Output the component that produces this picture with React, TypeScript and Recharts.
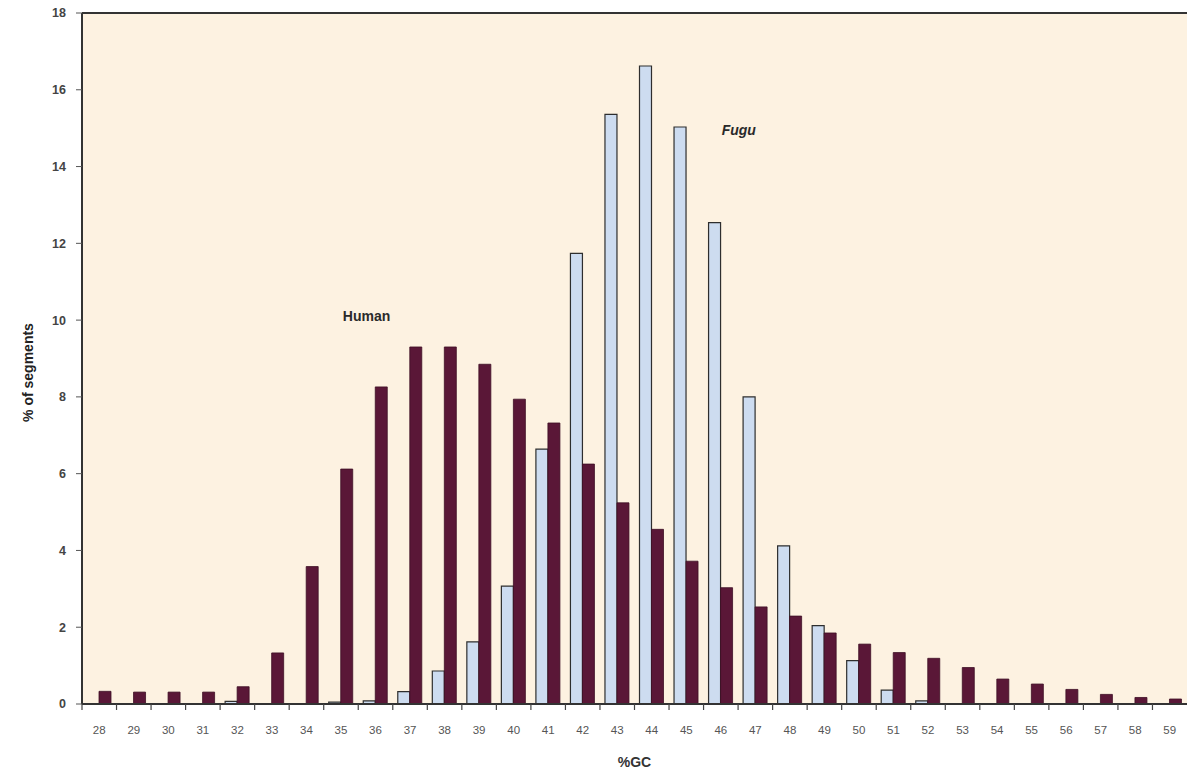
import React from "react"
import { BarChart, Bar, XAxis, YAxis, CartesianGrid, ReferenceLine, ReferenceDot } from "recharts"

// %GC bins
const gcBins = [
  "28", "29", "30", "31", "32", "33", "34", "35", "36", "37", "38", "39", "40", "41", "42", "43",
  "44", "45", "46", "47", "48", "49", "50", "51", "52", "53", "54", "55", "56", "57", "58", "59",
]

// % of segments
const fuguValues = [
  0, 0, 0, 0, 0.07, 0, 0, 0.05, 0.08, 0.32, 0.86, 1.62, 3.07, 6.64, 11.74, 15.36,
  16.62, 15.03, 12.54, 8.0, 4.12, 2.04, 1.13, 0.36, 0.08, 0, 0, 0, 0, 0, 0, 0,
]
const humanValues = [
  0.33, 0.31, 0.31, 0.31, 0.45, 1.33, 3.58, 6.12, 8.26, 9.3, 9.3, 8.85, 7.94, 7.32, 6.25, 5.24,
  4.55, 3.72, 3.03, 2.53, 2.29, 1.85, 1.56, 1.34, 1.19, 0.95, 0.65, 0.52, 0.38, 0.25, 0.17, 0.13,
]

const yTicks = [0, 2, 4, 6, 8, 10, 12, 14, 16, 18]

const data = gcBins.map((gc, i) => ({ gc, fugu: fuguValues[i], human: humanValues[i] }))

const font = "'Liberation Sans', Arial, sans-serif"

// label at band centre, tick mark on the band boundary
const GcTick = (props: any) => {
  const { x, y, payload } = props
  const off = payload.offset || 0
  return (
    <g>
      <line x1={x - off} y1={y - 8} x2={x - off} y2={y - 2} stroke="#444" strokeWidth={1.2} />
      <text x={x} y={y + 22} textAnchor="middle" fontSize={11.5} fill="#555" fontFamily={font}>
        {payload.value}
      </text>
    </g>
  )
}

const seriesLabel = (text: string, italic: boolean, dx: number) => (props: any) => {
  const { viewBox } = props
  const cx = viewBox.x + viewBox.width / 2
  const cy = viewBox.y + viewBox.height / 2
  return (
    <text
      x={cx}
      y={cy}
      dx={dx}
      dy={5}
      textAnchor="middle"
      fontSize={14}
      fontWeight="bold"
      fontStyle={italic ? "italic" : "normal"}
      fill="#2a2a2a"
      fontFamily={font}
    >
      {text}
    </text>
  )
}

export default function App() {
  return (
    <div style={{ position: "absolute", left: 0, top: 0, width: 1188, height: 773, background: "#fff" }}>
      <BarChart
        width={1188}
        height={773}
        data={data}
        margin={{ top: 13, right: 1, left: 0, bottom: 0 }}
        barCategoryGap={5}
        barGap={0}
      >
        <CartesianGrid fill="#fdf2e1" horizontal={false} vertical={false} />
        <XAxis
          dataKey="gc"
          height={69}
          axisLine={{ stroke: "#333", strokeWidth: 2 }}
          tickLine={false}
          interval={0}
          tick={<GcTick />}
          label={{
            value: "%GC",
            position: "insideBottom",
            offset: 6,
            fontSize: 14,
            fontWeight: "bold",
            fill: "#333",
            fontFamily: font,
          }}
        />
        <YAxis
          width={82}
          domain={[0, 18]}
          ticks={yTicks}
          interval={0}
          axisLine={{ stroke: "#333", strokeWidth: 2 }}
          tickLine={{ stroke: "#555" }}
          tickSize={6}
          tickMargin={10}
          tick={{ fontSize: 12.5, fill: "#444", fontFamily: font, fontWeight: "bold" }}
          label={{
            value: "% of segments",
            angle: -90,
            position: "insideLeft",
            offset: 28,
            dy: 14,
            fontSize: 14,
            fontWeight: "bold",
            fill: "#222",
            fontFamily: font,
            style: { textAnchor: "middle" },
          }}
        />
        <ReferenceLine y={18} stroke="#333" strokeWidth={2} ifOverflow="extendDomain" />
        <Bar dataKey="fugu" fill="#cddcf0" stroke="#2e2e2e" strokeWidth={1.2} isAnimationActive={false} />
        <Bar dataKey="human" fill="#5a1737" stroke="#3e0f25" strokeWidth={0.8} isAnimationActive={false} />
        <ReferenceDot x="36" y={10.1} r={0} fill="none" stroke="none" label={seriesLabel("Human", false, -9)} />
        <ReferenceDot x="46" y={14.95} r={0} fill="none" stroke="none" label={seriesLabel("Fugu", true, 18)} />
      </BarChart>
    </div>
  )
}
